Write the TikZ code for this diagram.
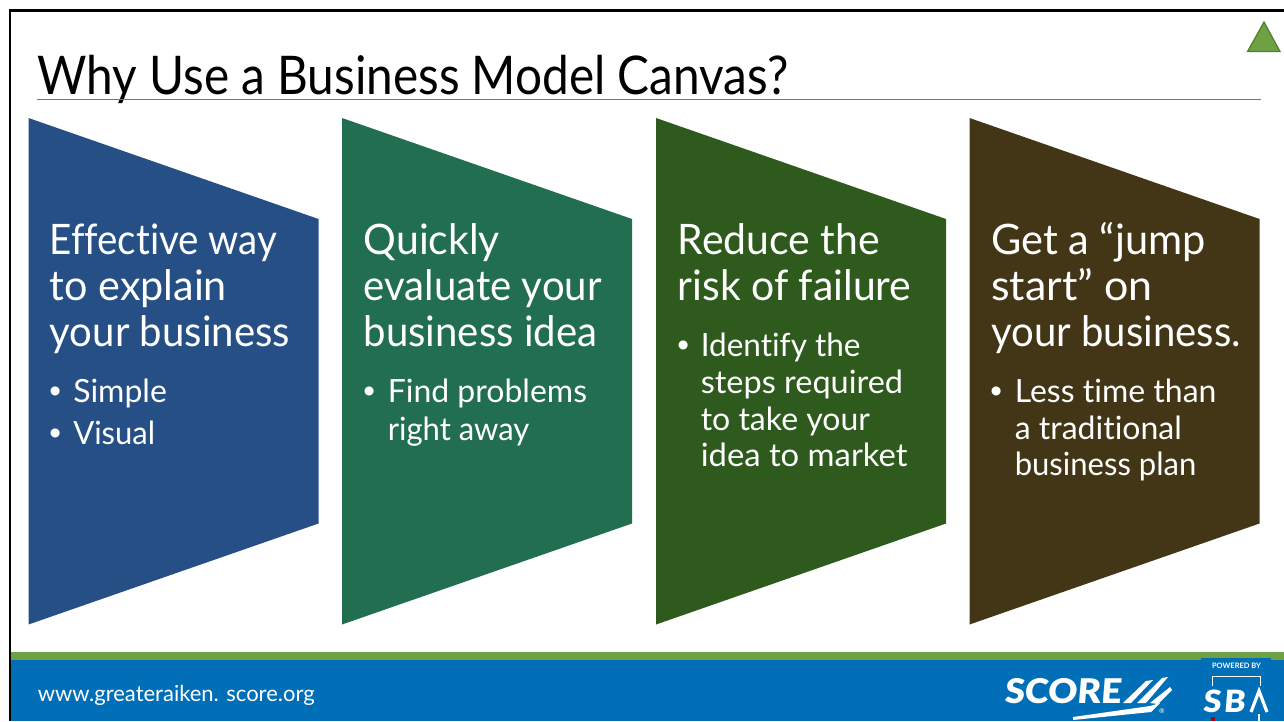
\documentclass[tikz,border=0pt]{standalone}
\usepackage{graphicx}
\usepackage{fontspec}
\setmainfont[Ligatures={NoCommon}]{Lato}
\newfontfamily\titlef[Ligatures={NoCommon},FakeStretch=0.895]{Lato}
\newfontfamily\headf[Ligatures={NoCommon},FakeStretch=0.955]{Lato}
\newfontfamily\bullf{Liberation Sans}
\newfontfamily\logof[FakeSlant=0.08,FakeStretch=1.06]{Lato Black}
\definecolor{cblue}{HTML}{264F85}
\definecolor{cteal}{HTML}{216E50}
\definecolor{cgreen}{HTML}{2F5A1D}
\definecolor{cbrown}{HTML}{433617}
\definecolor{band}{HTML}{006FB8}
\definecolor{lime}{HTML}{6FA044}
\definecolor{limed}{HTML}{4F7F2E}
\newcommand{\fsz}[1]{\fontsize{#1}{#1}\selectfont}
\newcommand{\sx}[2]{\scalebox{#1}[1]{#2}}
\tikzset{
 panel/.style={fill=#1,draw=none},
 head/.style={text=white,anchor=base west,inner sep=0,align=left,font=\headf\fsz{31.5}},
 bul/.style={text=white,anchor=base west,inner sep=0,align=left,font=\fsz{24}},
 mk/.style={text=white,anchor=base west,inner sep=0,font=\bullf\fsz{25}},
}
\newcommand{\panelshape}[3]{%
 \fill[panel=#2] (#1,118) coordinate (#3a) -- ++(290,101) -- ++(0,304.5) -- ++(-290,101) -- cycle;}
\begin{document}
\begin{tikzpicture}[x=0.75pt,y=-0.75pt]
\useasboundingbox (0,0) rectangle (1284,721);
\fill[white] (0,0) rectangle (1284,721);
\draw[black,line width=1.8pt] (10,721) -- (10,10.5) -- (1284,10.5);
\node[anchor=base west,inner sep=0,font=\titlef\fsz{40}] (title) at (37,94) {Why Use a Business Model Canvas?};
\draw[gray!90!black,line width=0.7pt] (37,99.5) coordinate (ra) -- (1261,99.5) coordinate (rb);
\fill[lime,draw=limed,line width=0.9pt,line join=miter] (1264,22) -- (1280,51.5) -- (1247.5,51.5) -- cycle;
\panelshape{28.5}{cblue}{p1}
\panelshape{342}{cteal}{p2}
\panelshape{656}{cgreen}{p3}
\panelshape{969.5}{cbrown}{p4}
% panel 1
\node[head] (h1a) at (49.5,254) {\sx{0.96}{Effective way}};
\node[head] (h1b) at (49.5,300) {\sx{1.03}{to explain}};
\node[head] (h1c) at (49.5,346) {your business};
\node[mk] (m1a) at (49,402) {•};
\node[bul] (b1a) at (73,402) {Simple};
\node[mk] (m1b) at (49,444) {•};
\node[bul] (b1b) at (73,444) {\sx{0.97}{Visual}};
% panel 2
\node[head] (h2a) at (363.5,254) {\sx{1.02}{Quickly}};
\node[head] (h2b) at (363.5,300) {evaluate your};
\node[head] (h2c) at (363.5,346) {business idea};
\node[mk] (m2a) at (363,402) {•};
\node[bul] (b2a) at (387.5,402) {Find problems};
\node[bul] (b2b) at (387.5,440) {\sx{0.97}{right away}};
% panel 3
\node[head] (h3a) at (677.5,254) {\sx{1.02}{Reduce the}};
\node[head] (h3b) at (677.5,300) {\sx{1.02}{risk of failure}};
\node[mk] (m3a) at (677,356) {•};
\node[bul] (b3a) at (700.5,356) {\sx{0.985}{Identify the}};
\node[bul] (b3b) at (700.5,393) {\sx{1.015}{steps required}};
\node[bul] (b3c) at (700.5,430) {to take your};
\node[bul] (b3d) at (700.5,466) {\sx{1.025}{idea to market}};
% panel 4
\node[head] (h4a) at (991,254) {\sx{1.035}{Get a “jump}};
\node[head] (h4b) at (991,300) {\sx{1.07}{start” on}};
\node[head] (h4c) at (991,346) {your business.};
\node[mk] (m4a) at (990,402) {•};
\node[bul] (b4a) at (1014.5,402) {Less time than};
\node[bul] (b4b) at (1014.5,439) {a traditional};
\node[bul] (b4c) at (1014.5,475) {\sx{0.97}{business plan}};
% footer
\fill[band] (11,659) rectangle (1284,721);
\fill[lime] (11,652) rectangle (1284,660);
\node[anchor=base west,inner sep=0,text=white,font=\fsz{16.5}] (url) at (37.5,701) {www.greateraiken. score.org};
% SCORE logo
\node[anchor=base west,inner sep=0,text=white,font=\logof\fsz{25.5}] (score) at (1004,703) {SCORE};
\fill[white] (1123,703) -- (1146,681) -- (1153,680) -- (1131,703) -- cycle;
\fill[white] (1137,703) -- (1162,678) -- (1168,677) -- (1146,703) -- cycle;
\fill[white] (1150,703) -- (1170,687) -- (1172,690) -- (1158,704) -- cycle;
\fill[white] (1073,717) -- (1150,706) -- (1160,703) -- (1151,712) -- (1073,720) -- cycle;
\node[inner sep=0,text=white,font=\fsz{5}] (reg) at (1162,711) {®};
% SBA logo
\fill[band] (1201,658) rectangle (1271,721);
\node[inner sep=0,text=white,font=\fsz{5.6}\bfseries] (pow) at (1236.5,665.5) {POWERED BY};
\draw[white,line width=1.2pt] (1212.5,686) -- (1212.5,676.5) -- (1260.5,676.5) -- (1260.5,686);
\node[anchor=base west,inner sep=0,text=white,font=\logof\fsz{23}] (sba) at (1202.5,712) {S\kern2ptB};
\draw[white,line width=2.4pt,line join=miter] (1251,712) -- (1259,691) -- (1267,712);
\fill[red!70!black] (1211,717) rectangle (1215,721);
\draw[white,line width=1.5pt] (1258.5,714) -- (1258.5,721);
\end{tikzpicture}
\end{document}
